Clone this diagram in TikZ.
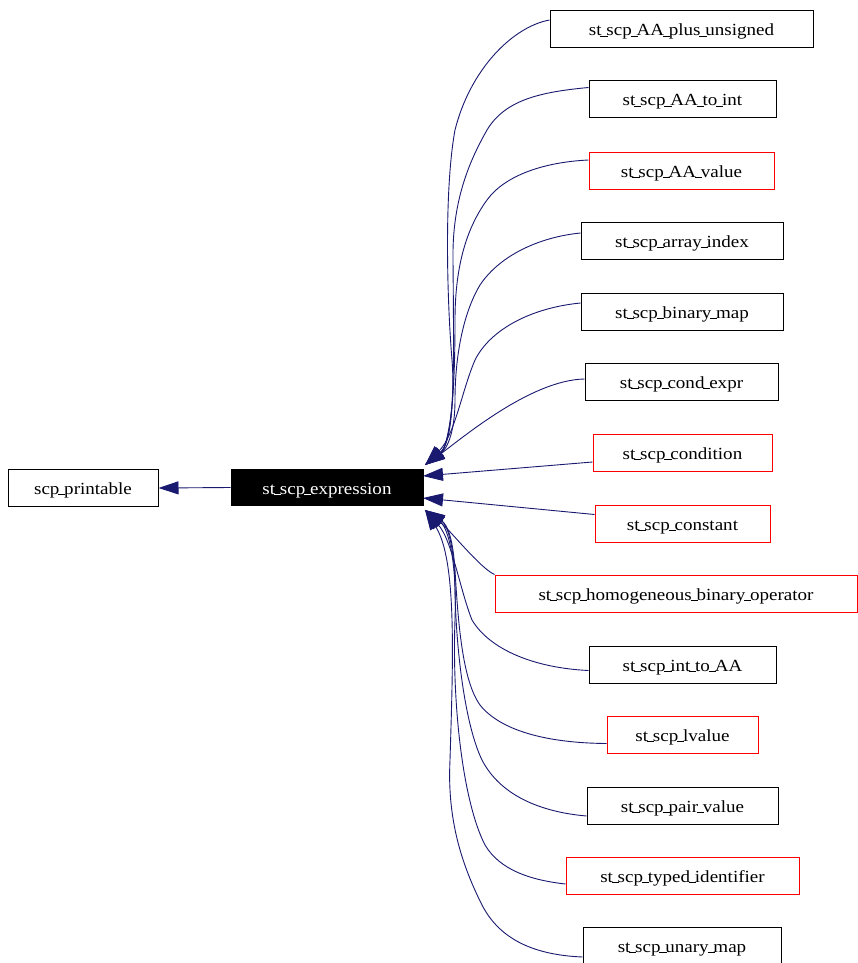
\documentclass[tikz,border=0pt]{standalone}
\usepackage{fontspec}
\setmainfont{Liberation Serif}[FakeStretch=1.12]
\usetikzlibrary{arrows.meta}
\definecolor{edgeblue}{RGB}{25,25,112}
\newcommand\us{\kern-0.07em\rule[-0.04em]{0.42em}{0.065em}\kern-0.07em}
\begin{document}
\begin{tikzpicture}[x=1pt,y=-1pt,
  box/.style={draw,line width=1pt,minimum height=37pt,inner sep=0pt,text height=14pt,text depth=1pt,font=\fontsize{17}{20}\selectfont},
  redbox/.style={box,draw=red},
  edge/.style={draw=edgeblue,line width=0.9pt,-{Triangle[length=20pt,width=13pt]}}]
\useasboundingbox (0,0) rectangle (858,963);
\node[box,minimum width=150pt] (pr) at (83,488) {scp\us printable};
\node[box,fill=black,text=white,minimum width=192pt,minimum height=36pt] (ex) at (327,487.5) {st\us scp\us expression};
\node[box,minimum width=263pt] (n1) at (681.5,29.5) {st\us scp\us AA\us plus\us unsigned};
\node[box,minimum width=187pt] (n2) at (682.5,99.5) {st\us scp\us AA\us to\us int};
\node[redbox,minimum width=185pt] (n3) at (681.5,170.5) {st\us scp\us AA\us value};
\node[box,minimum width=202pt] (n4) at (682,241) {st\us scp\us array\us index};
\node[box,minimum width=202pt] (n5) at (682,311.5) {st\us scp\us binary\us map};
\node[box,minimum width=193pt] (n6) at (681.5,381.5) {st\us scp\us cond\us expr};
\node[redbox,minimum width=179pt] (n7) at (682.5,452.5) {st\us scp\us condition};
\node[redbox,minimum width=175pt] (n8) at (682.5,523.5) {st\us scp\us constant};
\node[redbox,minimum width=362pt] (n9) at (676,593.5) {st\us scp\us homogeneous\us binary\us operator};
\node[box,minimum width=187pt] (n10) at (682.5,664.5) {st\us scp\us int\us to\us AA};
\node[redbox,minimum width=151pt] (n11) at (682.5,734.5) {st\us scp\us lvalue};
\node[box,minimum width=191pt] (n12) at (682.5,805.5) {st\us scp\us pair\us value};
\node[redbox,minimum width=233pt] (n13) at (682.5,876) {st\us scp\us typed\us identifier};
\node[box,minimum width=198pt] (n14) at (682,946) {st\us scp\us unary\us map};
\coordinate (tu) at (425,465);
\coordinate (tl) at (425,510);
\coordinate (tc) at (423,476);
\coordinate (tk) at (423,498);
\draw[edge] (ex.west) -- (pr.east);
\draw[edge] ([yshift=9.5pt]n1.west) .. controls (512,27) and (470,70) .. (455,130) .. controls (444,190) and (447,300) .. (452,360) .. controls (456,410) and (445,451) .. (tu);
\draw[edge] ([yshift=12pt]n2.west) .. controls (540,92) and (505,100) .. (487,130) .. controls (470,160) and (452,200) .. (453,260) .. controls (454,380) and (455,440) .. (tu);
\draw[edge] ([yshift=10.5pt]n3.west) .. controls (545,162) and (505,175) .. (487,200) .. controls (465,230) and (455,270) .. (455,320) .. controls (455,400) and (450,445) .. (tu);
\draw[edge] ([yshift=8pt]n4.west) .. controls (540,237) and (500,255) .. (480,285) .. controls (462,315) and (455,360) .. (455,400) .. controls (455,430) and (448,448) .. (tu);
\draw[edge] ([yshift=8.5pt]n5.west) .. controls (530,308) and (490,330) .. (475,360) .. controls (462,390) and (455,435) .. (tu);
\draw[edge] ([yshift=2.5pt]n6.west) .. controls (530,380) and (460,440) .. (tu);
\draw[edge] ([yshift=-9.5pt]n7.west) -- (tc);
\draw[edge] ([yshift=9pt]n8.west) -- (tk);
\draw[edge] (n9.north west) .. controls (480,568) and (450,530) .. (tl);
\draw[edge] ([yshift=-6pt]n10.west) .. controls (535,668) and (490,650) .. (472,620) .. controls (460,590) and (452,540) .. (tl);
\draw[edge] ([yshift=-9pt]n11.west) .. controls (545,743) and (500,730) .. (480,705) .. controls (462,680) and (458,620) .. (455,570) .. controls (453,540) and (448,525) .. (tl);
\draw[edge] ([yshift=-10.5pt]n12.west) .. controls (540,812) and (500,795) .. (482,760) .. controls (465,725) and (456,650) .. (455,590) .. controls (455,550) and (448,525) .. (tl);
\draw[edge] ([yshift=-8pt]n13.west) .. controls (530,880) and (500,870) .. (485,845) .. controls (462,800) and (452,700) .. (455,620) .. controls (457,560) and (448,528) .. (tl);
\draw[edge] ([yshift=-11pt]n14.west) .. controls (535,955) and (500,940) .. (482,905) .. controls (462,865) and (447,820) .. (450,760) .. controls (453,660) and (457,560) .. (tl);
\end{tikzpicture}
\end{document}
